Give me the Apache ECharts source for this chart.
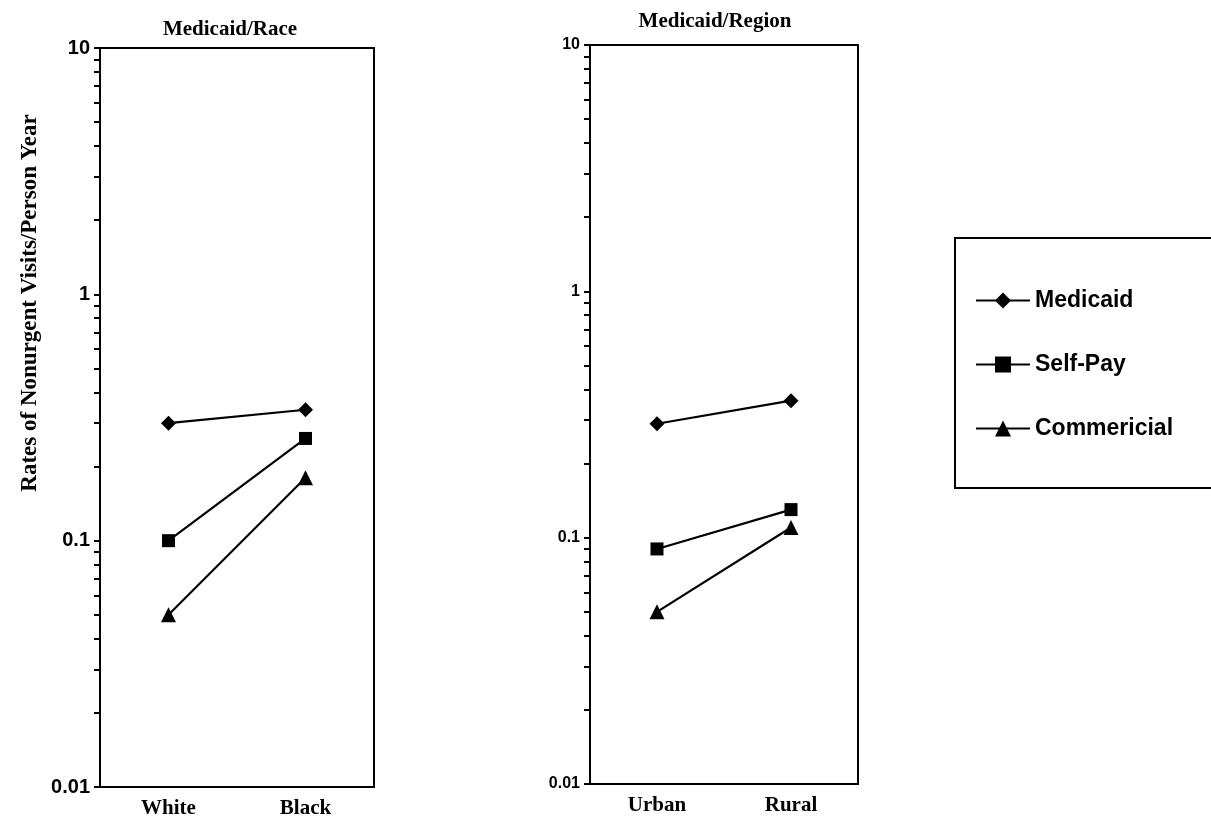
<!DOCTYPE html>
<html>
<head>
<meta charset="utf-8">
<script src="https://cdn.jsdelivr.net/npm/echarts@6/dist/echarts.min.js"></script>
<style>
html,body{margin:0;padding:0;background:#fff;}
#chart{width:1211px;height:820px;}
</style>
</head>
<body>
<div id="chart"></div>
<script>
// ---- data ----
const raceCategories = ['White', 'Black'];
const regionCategories = ['Urban', 'Rural'];
const seriesNames = ['Medicaid', 'Self-Pay', 'Commericial'];
const raceMedicaid = [0.30, 0.34];
const raceSelfPay = [0.10, 0.26];
const raceCommercial = [0.05, 0.18];
const regionMedicaid = [0.29, 0.36];
const regionSelfPay = [0.09, 0.13];
const regionCommercial = [0.05, 0.11];
const yTickLabels = ['0.01', '0.1', '1', '10'];
const panelTitles = ['Medicaid/Race', 'Medicaid/Region'];
const yAxisTitle = 'Rates of Nonurgent Visits/Person Year';

const decades = [0.01, 0.1, 1];
const tickValues = [];
decades.forEach(d => { for (let k = 1; k <= 9; k++) tickValues.push(+(d * k).toPrecision(3)); });
tickValues.push(10);

const symbols = ['diamond', 'rect', 'triangle'];
const symbolSizes = [15, 13, 15];

function yAxis(gridIndex, fontSize) {
  return {
    type: 'log', logBase: 10, gridIndex, min: 0.01, max: 10,
    axisLine: { show: true, lineStyle: { color: '#000', width: 2 } },
    axisTick: { show: true, length: 6, customValues: tickValues, lineStyle: { color: '#000', width: 2 } },
    axisLabel: {
      customValues: yTickLabels.map(Number),
      formatter: v => yTickLabels.find(t => Number(t) === v) || String(v),
      color: '#000', fontFamily: 'Liberation Sans', fontWeight: 'bold', fontSize, margin: 10
    },
    splitLine: { show: false }
  };
}
function xAxis(gridIndex, data) {
  return {
    type: 'category', gridIndex, data, boundaryGap: true,
    axisLine: { show: true, lineStyle: { color: '#000', width: 2 } },
    axisTick: { show: false },
    axisLabel: { color: '#000', fontFamily: 'Liberation Serif', fontWeight: 'bold', fontSize: 21, margin: 11 }
  };
}
function makeSeries(idx, values, k) {
  return {
    name: seriesNames[k], type: 'line', xAxisIndex: idx, yAxisIndex: idx,
    data: values, symbol: symbols[k], symbolSize: symbolSizes[k],
    itemStyle: { color: '#000' }, lineStyle: { color: '#000', width: 2.2 },
    emphasis: { disabled: true }, animation: false
  };
}

const chart = echarts.init(document.getElementById('chart'), null, { renderer: 'canvas' });
chart.setOption({
  animation: false,
  backgroundColor: '#fff',
  title: [
    { text: panelTitles[0], left: 225, top: 14, textAlign: 'center',
      textStyle: { fontFamily: 'Liberation Serif', fontWeight: 'bold', fontSize: 21, color: '#000' } },
    { text: panelTitles[1], left: 710, top: 6, textAlign: 'center',
      textStyle: { fontFamily: 'Liberation Serif', fontWeight: 'bold', fontSize: 21, color: '#000' } }
  ],
  grid: [
    { left: 100, top: 48, width: 274, height: 739, show: true, borderColor: '#000', borderWidth: 2 },
    { left: 590, top: 45, width: 268, height: 739, show: true, borderColor: '#000', borderWidth: 2 }
  ],
  xAxis: [xAxis(0, raceCategories), xAxis(1, regionCategories)],
  yAxis: [yAxis(0, 20), yAxis(1, 16)],
  legend: {
    orient: 'vertical', left: 955, top: 238,
    data: seriesNames,
    itemWidth: 54, itemHeight: 20, itemGap: 41,
    padding: [51, 120, 48, 20],
    borderColor: '#000', borderWidth: 2,
    lineStyle: { width: 2 },
    textStyle: { fontFamily: 'Liberation Sans', fontWeight: 'bold', fontSize: 23, color: '#000' }
  },
  graphic: [
    { type: 'text', x: 30, y: 303, rotation: Math.PI / 2,
      style: { text: yAxisTitle, fontFamily: 'Liberation Serif', fontWeight: 'bold', fontSize: 23, fill: '#000',
               textAlign: 'center', textVerticalAlign: 'middle' } }
  ],
  series: [
    makeSeries(0, raceMedicaid, 0), makeSeries(0, raceSelfPay, 1), makeSeries(0, raceCommercial, 2),
    makeSeries(1, regionMedicaid, 0), makeSeries(1, regionSelfPay, 1), makeSeries(1, regionCommercial, 2)
  ]
});
</script>
</body>
</html>
